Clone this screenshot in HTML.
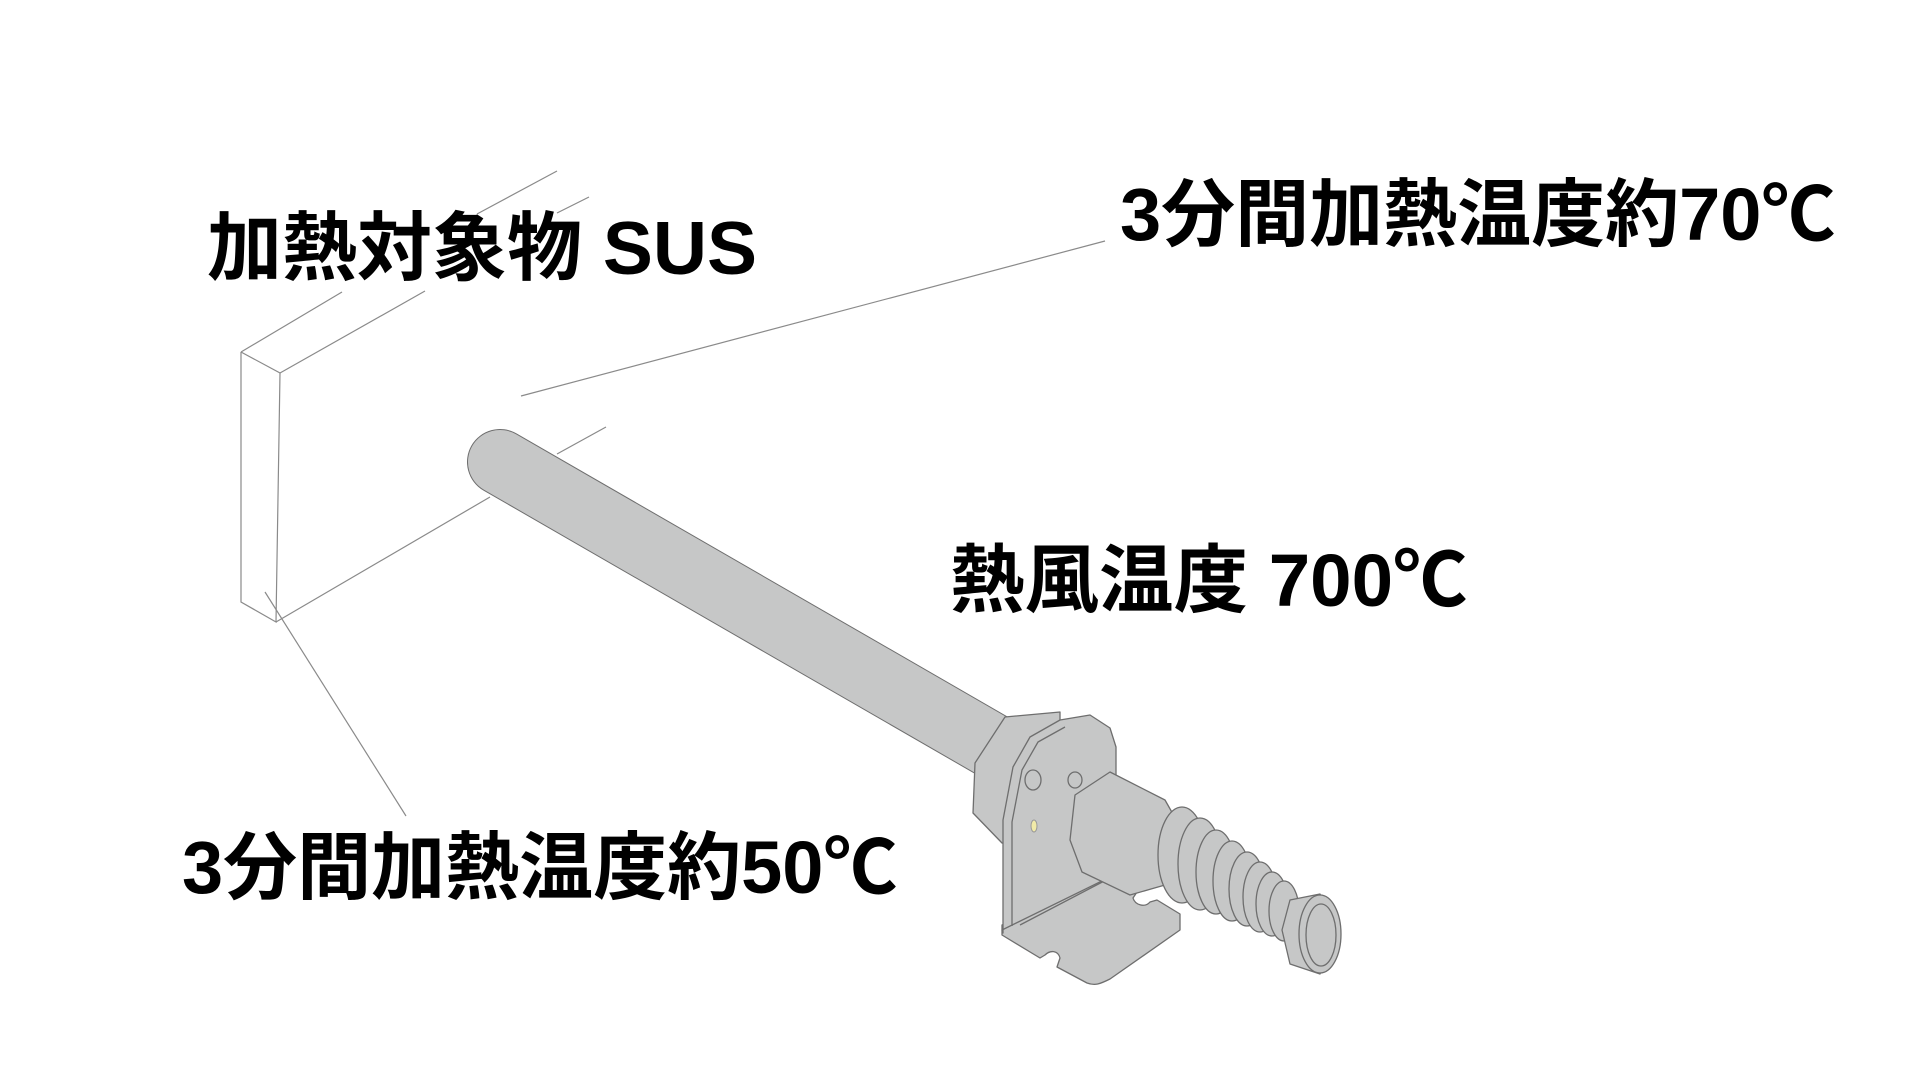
<!DOCTYPE html>
<html><head><meta charset="utf-8"><style>
html,body{margin:0;padding:0;background:#fff;}
body{width:1920px;height:1080px;position:relative;overflow:hidden;}
.t{position:absolute;font-family:"Liberation Sans","Noto Sans CJK JP",sans-serif;font-weight:bold;color:#000;line-height:1;white-space:nowrap;}
svg{position:absolute;left:0;top:0;}
</style></head><body>
<svg width="1920" height="1080" viewBox="0 0 1920 1080">
<g stroke="#8a8a8a" stroke-width="1.2" fill="none">
<polyline points="241,352 241,602 276,622 280,373 241,352"/>
<line x1="241" y1="352" x2="342" y2="292"/>
<line x1="477" y1="214" x2="557" y2="171"/>
<line x1="280" y1="373" x2="425" y2="291"/>
<line x1="557" y1="213" x2="589" y2="197"/>
<line x1="276" y1="622" x2="490" y2="497"/>
<line x1="557" y1="454" x2="606" y2="427"/>
<line x1="521" y1="396" x2="1105" y2="241"/>
<line x1="265" y1="592" x2="406" y2="816"/>
</g>
<line x1="500" y1="462" x2="1010" y2="756" stroke="#6e6e6e" stroke-width="66" stroke-linecap="round"/>
<line x1="500" y1="462" x2="1010" y2="756" stroke="#c6c7c7" stroke-width="64" stroke-linecap="round"/>
<g fill="#c6c7c7" stroke="#6e6e6e" stroke-width="1.3" stroke-linejoin="round">
<path d="M1005,717 L1060,712 L1060,860 L1002,843 L973,813 L975,763 Z"/>
<path d="M1002,925 L1002,935 L1040,958 L1045,955 C1050,950 1058,950 1060,958 L1057,967 L1087,983 C1095,986 1100,984 1110,979 L1180,930 L1180,914 L1157,900 L1150,902 C1145,908 1135,905 1133,898 L1137,892 L1110,877 Z"/>
<path d="M1003,933 L1003,820 L1013,767 L1030,737 L1060,720 L1090,715 L1110,728 L1116,747 L1116,800 L1110,877 L1002,930 Z"/>
<path d="M1012,926 L1012,822 L1022,770 L1038,742 L1065,727" fill="none"/>
<path d="M1020,925 L1110,878" fill="none"/>
<ellipse cx="1075" cy="780" rx="7" ry="8"/>
<ellipse cx="1033" cy="780" rx="8" ry="10"/>
<path d="M1075,795 L1110,772 L1165,800 L1182,830 L1165,885 L1130,895 L1082,872 L1070,840 Z"/>
<ellipse cx="1182" cy="855" rx="24" ry="48"/>
<ellipse cx="1200" cy="864" rx="22" ry="46"/>
<ellipse cx="1216" cy="872" rx="20" ry="42"/>
<ellipse cx="1232" cy="881" rx="19" ry="40"/>
<ellipse cx="1247" cy="889" rx="18" ry="37"/>
<ellipse cx="1260" cy="897" rx="17" ry="35"/>
<ellipse cx="1272" cy="904" rx="16" ry="32"/>
<ellipse cx="1284" cy="911" rx="15" ry="30"/>
<path d="M1290,900 L1320,894 L1338,930 L1320,974 L1290,964 L1282,930 Z"/>
<ellipse cx="1320" cy="934" rx="21" ry="39"/>
<ellipse cx="1321" cy="935" rx="15" ry="31"/>
</g>
<ellipse cx="1034" cy="826" rx="3" ry="6" fill="#f1eaa8" stroke="#999" stroke-width="1"/>
</svg>
<div class="t" style="left:207px;top:211px;font-size:75px;">加熱対象物 SUS</div>
<div class="t" style="left:1120px;top:178px;font-size:74px;">3分間加熱温度約70℃</div>
<div class="t" style="left:950px;top:544px;font-size:74.5px;">熱風温度 700℃</div>
<div class="t" style="left:182px;top:831px;font-size:74px;">3分間加熱温度約50℃</div>
</body></html>
